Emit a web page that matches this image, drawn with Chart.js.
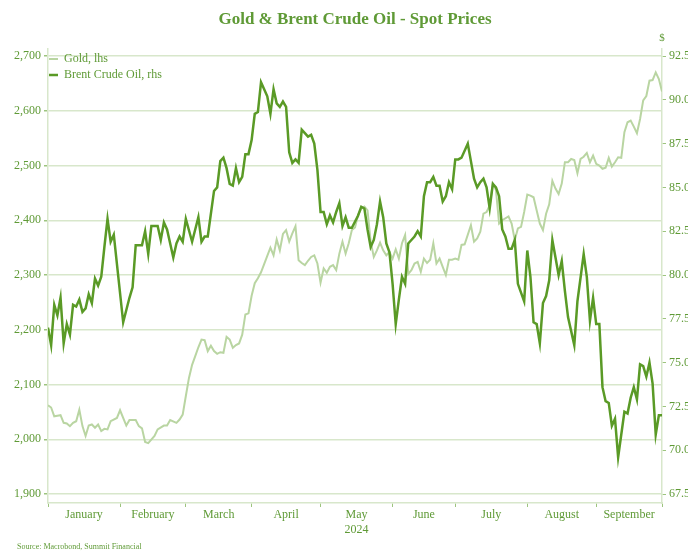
<!DOCTYPE html>
<html>
<head>
<meta charset="utf-8">
<title>Gold & Brent Crude Oil - Spot Prices</title>
<script src="https://cdn.jsdelivr.net/npm/chart.js@4"></script>
<style>
  html, body { margin: 0; padding: 0; background: #fff; }
</style>
</head>
<body>
<canvas id="spotChart" width="688" height="551"></canvas>
<script>
// x positions are trading days counted from the first session of 2024
const monthLabels = ['January', 'February', 'March', 'April', 'May', 'June', 'July', 'August', 'September'];
const yearLabel = '2024';
const monthStart = [0, 23, 44, 65, 87, 110, 130, 153, 175, 196];

const goldTicks = [1900, 2000, 2100, 2200, 2300, 2400, 2500, 2600, 2700];
const brentTicks = [67.5, 70, 72.5, 75, 77.5, 80, 82.5, 85, 87.5, 90, 92.5];

const goldDay = [0, 1, 2, 3, 4, 5, 6, 7, 8, 9, 10, 11, 12, 13, 14, 15, 16, 17, 18, 19, 20, 22, 23, 25, 26, 28, 29, 30, 31, 32, 34, 35, 37, 38, 39, 41, 42, 43, 44, 45, 46, 47, 48, 49, 50, 51, 52, 53, 54, 55, 56, 57, 58, 59, 60, 61, 62, 63, 64, 65, 66, 67, 68, 69, 70, 71, 72, 73, 74, 75, 76, 77, 78, 79, 80, 81, 82, 83, 84, 85, 86, 87, 88, 89, 90, 91, 92, 93, 94, 95, 96, 97, 98, 99, 100, 101, 102, 103, 104, 105, 106, 107, 108, 109, 110, 111, 112, 113, 114, 115, 116, 117, 118, 119, 120, 121, 122, 123, 124, 125, 126, 127, 128, 129, 130, 131, 132, 133, 135, 136, 137, 138, 139, 140, 141, 142, 143, 144, 145, 147, 148, 149, 150, 151, 152, 153, 154, 155, 156, 157, 158, 159, 160, 161, 162, 163, 164, 165, 166, 167, 168, 169, 170, 171, 172, 173, 174, 175, 176, 177, 178, 179, 180, 181, 182, 183, 184, 185, 186, 187, 188, 189, 190, 191, 192, 193, 194, 195, 196];
const goldPrice = [2062, 2058, 2042, 2043, 2044, 2030, 2029, 2024, 2030, 2033, 2054, 2024, 2006, 2025, 2027, 2021, 2027, 2015, 2019, 2018, 2033, 2039, 2053, 2025, 2035, 2035, 2024, 2020, 1995, 1993, 2006, 2018, 2025, 2025, 2035, 2030, 2036, 2045, 2079, 2112, 2136, 2152, 2168, 2182, 2181, 2161, 2171, 2161, 2156, 2159, 2158, 2187, 2182, 2167, 2172, 2175, 2191, 2228, 2230, 2262, 2285, 2294, 2305, 2320, 2335, 2350, 2336, 2365, 2345, 2375, 2382, 2361, 2376, 2389, 2327, 2322, 2318, 2326, 2333, 2336, 2321, 2286, 2312, 2304, 2315, 2318, 2309, 2339, 2361, 2339, 2358, 2382, 2387, 2410, 2421, 2425, 2418, 2361, 2333, 2345, 2359, 2345, 2336, 2342, 2330, 2347, 2330, 2358, 2373, 2302, 2309, 2321, 2324, 2306, 2330, 2322, 2328, 2358, 2321, 2330, 2315, 2300, 2328, 2328, 2330, 2328, 2355, 2356, 2391, 2361, 2367, 2379, 2412, 2415, 2427, 2467, 2455, 2394, 2400, 2407, 2394, 2364, 2385, 2388, 2415, 2447, 2445, 2442, 2418, 2394, 2382, 2412, 2429, 2472, 2458, 2448, 2467, 2506, 2506, 2512, 2510, 2486, 2512, 2516, 2523, 2506, 2518, 2503, 2500, 2494, 2496, 2514, 2498, 2506, 2515, 2514, 2561, 2579, 2582, 2571, 2559, 2585, 2619, 2627, 2655, 2656, 2670, 2658, 2635];

const brentDay = [0, 1, 2, 3, 4, 5, 6, 7, 8, 9, 10, 11, 12, 13, 14, 15, 16, 17, 18, 19, 20, 21, 24, 26, 27, 28, 30, 31, 32, 33, 35, 36, 37, 38, 40, 41, 42, 43, 44, 46, 48, 49, 50, 51, 53, 54, 55, 56, 57, 58, 59, 60, 61, 62, 63, 64, 65, 66, 67, 68, 69, 70, 71, 72, 73, 74, 75, 76, 77, 78, 79, 80, 81, 82, 83, 84, 85, 86, 87, 88, 89, 90, 91, 92, 93, 94, 95, 96, 97, 99, 100, 101, 102, 103, 104, 105, 106, 107, 108, 109, 110, 111, 112, 113, 114, 115, 116, 117, 118, 119, 120, 121, 122, 123, 124, 125, 126, 127, 128, 129, 130, 131, 132, 134, 135, 136, 137, 138, 139, 140, 141, 142, 143, 144, 145, 146, 147, 148, 149, 150, 151, 152, 153, 154, 155, 156, 157, 158, 159, 160, 161, 162, 163, 164, 165, 166, 168, 169, 171, 172, 173, 174, 175, 176, 177, 178, 179, 180, 181, 182, 184, 185, 186, 187, 188, 189, 190, 191, 192, 193, 194, 195, 196];
const brentPrice = [77.0, 76.0, 78.3, 77.7, 78.7, 76.1, 77.2, 76.6, 78.3, 78.2, 78.6, 77.9, 78.1, 78.9, 78.4, 79.8, 79.4, 79.9, 81.6, 83.2, 81.9, 82.3, 77.3, 78.7, 79.3, 81.7, 81.7, 82.5, 81.2, 82.8, 82.8, 82.0, 83.0, 82.6, 81.0, 81.8, 82.2, 81.9, 83.2, 81.9, 83.3, 81.9, 82.2, 82.2, 84.8, 85.0, 86.5, 86.7, 86.1, 85.2, 85.1, 86.1, 85.3, 85.6, 86.9, 86.9, 87.7, 89.2, 89.3, 91.0, 90.6, 90.2, 89.2, 90.6, 89.8, 89.6, 89.9, 89.6, 87.0, 86.4, 86.6, 86.4, 88.3, 88.1, 87.9, 88.0, 87.5, 86.0, 83.6, 83.6, 82.9, 83.4, 83.0, 83.6, 84.1, 82.8, 83.3, 82.7, 82.7, 83.4, 83.9, 83.8, 82.6, 81.6, 82.0, 82.9, 84.2, 83.3, 81.8, 81.3, 79.5, 77.2, 78.6, 79.9, 79.5, 81.8, 82.0, 82.2, 82.5, 82.2, 84.5, 85.3, 85.3, 85.6, 85.1, 85.1, 84.2, 84.5, 85.3, 84.9, 86.6, 86.6, 86.7, 87.5, 86.5, 85.5, 85.0, 85.3, 85.5, 85.0, 83.8, 85.2, 85.0, 84.5, 82.6, 82.2, 81.5, 81.5, 82.0, 79.5, 79.0, 78.5, 81.4, 79.9, 77.3, 77.2, 76.1, 78.4, 78.8, 79.7, 82.0, 81.0, 80.0, 80.8, 79.1, 77.6, 76.0, 78.5, 81.2, 79.9, 77.4, 78.7, 77.2, 77.2, 73.6, 72.8, 72.7, 71.4, 71.8, 69.6, 72.2, 72.1, 73.0, 73.6, 72.9, 74.9, 74.8, 74.2, 75.0, 73.8, 70.9, 72.0, 72.0];

const monthMid = monthStart.slice(0, -1).map((s, i) => (s + monthStart[i + 1]) / 2);

const green = '#5f9a36';
const brentColor = '#5a9a26';
const goldColor = '#b9d5a2';
const gridColor = '#d8e7cb';
const tickMarkColor = '#9dc47e';
const serif = 'Liberation Serif';

// legend in 'chartArea' gets its top reset to 0, pin it back inside the plot
const legendInPlot = {
  id: 'legendInPlot',
  afterLayout(chart) {
    const lg = chart.legend;
    const area = chart.chartArea;
    lg.top = area.top;
    lg.bottom = area.bottom;
    lg.left = area.left - 3;
  }
};

const extraText = {
  id: 'extraText',
  afterDraw(chart) {
    const ctx = chart.ctx;
    const right = chart.scales.y1;
    ctx.save();
    ctx.fillStyle = green;
    ctx.textAlign = 'center';
    ctx.textBaseline = 'middle';
    ctx.font = '11px "' + serif + '"';
    ctx.fillText('$', right.left, chart.chartArea.top - 11);
    ctx.textAlign = 'left';
    ctx.font = '8px "' + serif + '"';
    ctx.fillText('Source: Macrobond, Summit Financial', 17, chart.height - 4);
    ctx.restore();
  }
};

new Chart('spotChart', {
  type: 'line',
  data: {
    datasets: [{
      label: 'Brent Crude Oil, rhs',
      data: brentDay.map((d, i) => ({ x: d, y: brentPrice[i] })),
      yAxisID: 'y1',
      borderColor: brentColor,
      backgroundColor: brentColor,
      borderWidth: 2.5,
      pointRadius: 0,
      tension: 0
    }, {
      label: 'Gold, lhs',
      data: goldDay.map((d, i) => ({ x: d, y: goldPrice[i] })),
      yAxisID: 'y',
      borderColor: goldColor,
      backgroundColor: goldColor,
      borderWidth: 2,
      pointRadius: 0,
      tension: 0
    }]
  },
  options: {
    responsive: false,
    animation: false,
    layout: { padding: { left: 0, right: 0, top: 0, bottom: 12 } },
    plugins: {
      title: {
        display: true,
        fullSize: false,
        text: 'Gold & Brent Crude Oil - Spot Prices',
        color: green,
        font: { family: serif, size: 17, weight: 'bold' },
        padding: { top: 9, bottom: 19.6 }
      },
      legend: {
        position: 'chartArea',
        align: 'start',
        reverse: true,
        labels: {
          usePointStyle: true,
          pointStyle: 'line',
          pointStyleWidth: 9,
          boxHeight: 12,
          padding: 4,
          color: green,
          font: { family: serif, size: 12 }
        }
      },
      tooltip: { enabled: false }
    },
    scales: {
      x: {
        type: 'linear',
        min: 0,
        max: 196,
        afterBuildTicks: s => {
          s.ticks = [...monthStart, ...monthMid].sort((a, b) => a - b).map(v => ({ value: v }));
        },
        afterFit: s => { s.height = 36; },
        ticks: {
          autoSkip: false,
          maxRotation: 0,
          padding: 1,
          color: green,
          font: { family: serif, size: 12 },
          callback: v => {
            const i = monthMid.indexOf(v);
            if (i < 0) return '';
            return i === 4 ? [monthLabels[i], yearLabel] : monthLabels[i];
          }
        },
        grid: {
          drawOnChartArea: false,
          tickLength: 4,
          tickColor: c => monthStart.includes(c.tick.value) ? tickMarkColor : 'rgba(0,0,0,0)'
        },
        border: { color: gridColor, width: 1.5 }
      },
      y: {
        position: 'left',
        min: 1883.6,
        max: 2712.8,
        afterBuildTicks: s => { s.ticks = goldTicks.map(v => ({ value: v })); },
        afterFit: s => { s.width = 48; },
        ticks: {
          padding: 3,
          color: green,
          font: { family: serif, size: 12 },
          callback: v => v.toLocaleString('en-US')
        },
        grid: { color: gridColor, lineWidth: 1.5, tickLength: 4, tickColor: tickMarkColor },
        border: { color: gridColor, width: 1.5 }
      },
      y1: {
        position: 'right',
        min: 66.99,
        max: 92.9,
        afterBuildTicks: s => { s.ticks = brentTicks.map(v => ({ value: v })); },
        afterFit: s => { s.width = 26; },
        ticks: {
          padding: 3,
          color: green,
          font: { family: serif, size: 12 },
          callback: v => v.toFixed(1)
        },
        grid: { drawOnChartArea: false, tickLength: 4, tickColor: tickMarkColor },
        border: { color: gridColor, width: 1.5 }
      }
    }
  },
  plugins: [legendInPlot, extraText]
});
</script>
</body>
</html>
